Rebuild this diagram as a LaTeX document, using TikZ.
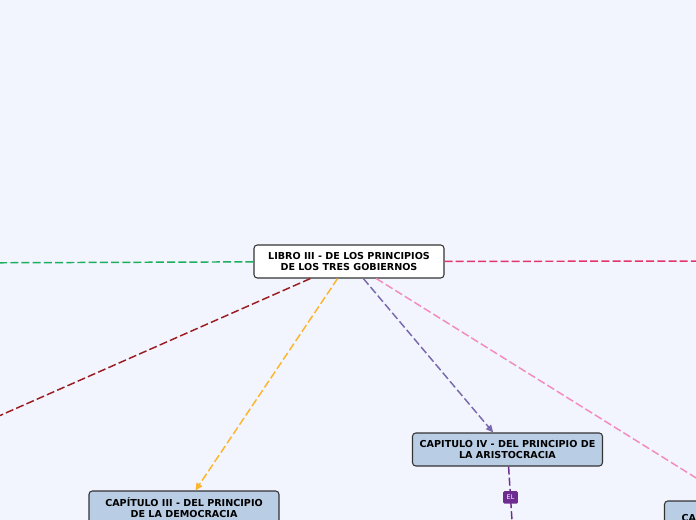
\documentclass[tikz,border=0pt]{standalone}
\usepackage{fontspec}
\setmainfont{DejaVu Sans}
\usepackage{xcolor}
\usetikzlibrary{arrows.meta, positioning, calc}

\definecolor{bgblue}{HTML}{F2F5FE}
\definecolor{boxblue}{HTML}{B9CDE5}
\definecolor{lnkgreen}{HTML}{1BAE5E}
\definecolor{lnkcrimson}{HTML}{E3336C}
\definecolor{lnkdarkred}{HTML}{9B1C20}
\definecolor{lnkorange}{HTML}{FDB52B}
\definecolor{lnkslate}{HTML}{7A68AD}
\definecolor{lnkpink}{HTML}{F38BBF}
\definecolor{lnkpurple}{HTML}{6E2C91}

\begin{document}
\begin{tikzpicture}[x=0.75pt, y=-0.75pt,
  topic/.style={draw=black!80, line width=0.8pt, rounded corners=2.5pt,
    minimum width=142.5pt, minimum height=24.75pt, inner sep=2pt,
    align=center, font=\fontsize{7.2}{8.3}\selectfont\bfseries},
  rootbox/.style={topic, fill=white},
  chapbox/.style={topic, fill=boxblue},
  link/.style={line width=1.1pt, dash pattern=on 6pt off 2.4pt},
  tip/.style={-{Triangle[length=5.5pt, width=5pt]}},
  tag/.style={fill=lnkpurple, text=white, rounded corners=1pt, inner sep=0pt,
    minimum width=11pt, minimum height=9.5pt, font=\fontsize{4.8}{5}\selectfont}]

% Background and frame
\path[use as bounding box, fill=bgblue] (0,0) rectangle (696,520);
\clip (0,0) rectangle (696,520);

% Central topic
\node[rootbox] (libro) at (349,261.5) {LIBRO III - DE LOS PRINCIPIOS\\DE LOS TRES GOBIERNOS};

% Chapters
\node[chapbox] (aristo) at (507.5,449.5) {CAPITULO IV - DEL PRINCIPIO DE\\LA ARISTOCRACIA};
\node[chapbox] (demo) at (184,507.5) {CAPÍTULO III - DEL PRINCIPIO\\DE LA DEMOCRACIA};
\node[chapbox, text width=117pt, align=left, inner xsep=12pt] (cap5) at (759.5,517.5) {CAPÍTULO V\\ };

% Branches leaving the frame
\coordinate (west) at (-60,263);
\coordinate (east) at (760,261);
\coordinate (southwest) at (-60,442);
\coordinate (below) at (514.5,560);

% Links from the central topic
\draw[link, lnkgreen] (libro) -- (west);
\draw[link, lnkcrimson] (libro) -- (east);
\draw[link, lnkdarkred] (libro) -- (southwest);
\draw[link, tip, lnkorange] (libro) -- (demo);
\draw[link, tip, lnkslate] (libro) -- (aristo);
\draw[link, tip, lnkpink] (libro) -- (cap5);

% Link below the aristocracy chapter
\draw[link, lnkpurple] (aristo) -- (below) node[tag, pos=0.33] {EL};

\end{tikzpicture}
\end{document}
